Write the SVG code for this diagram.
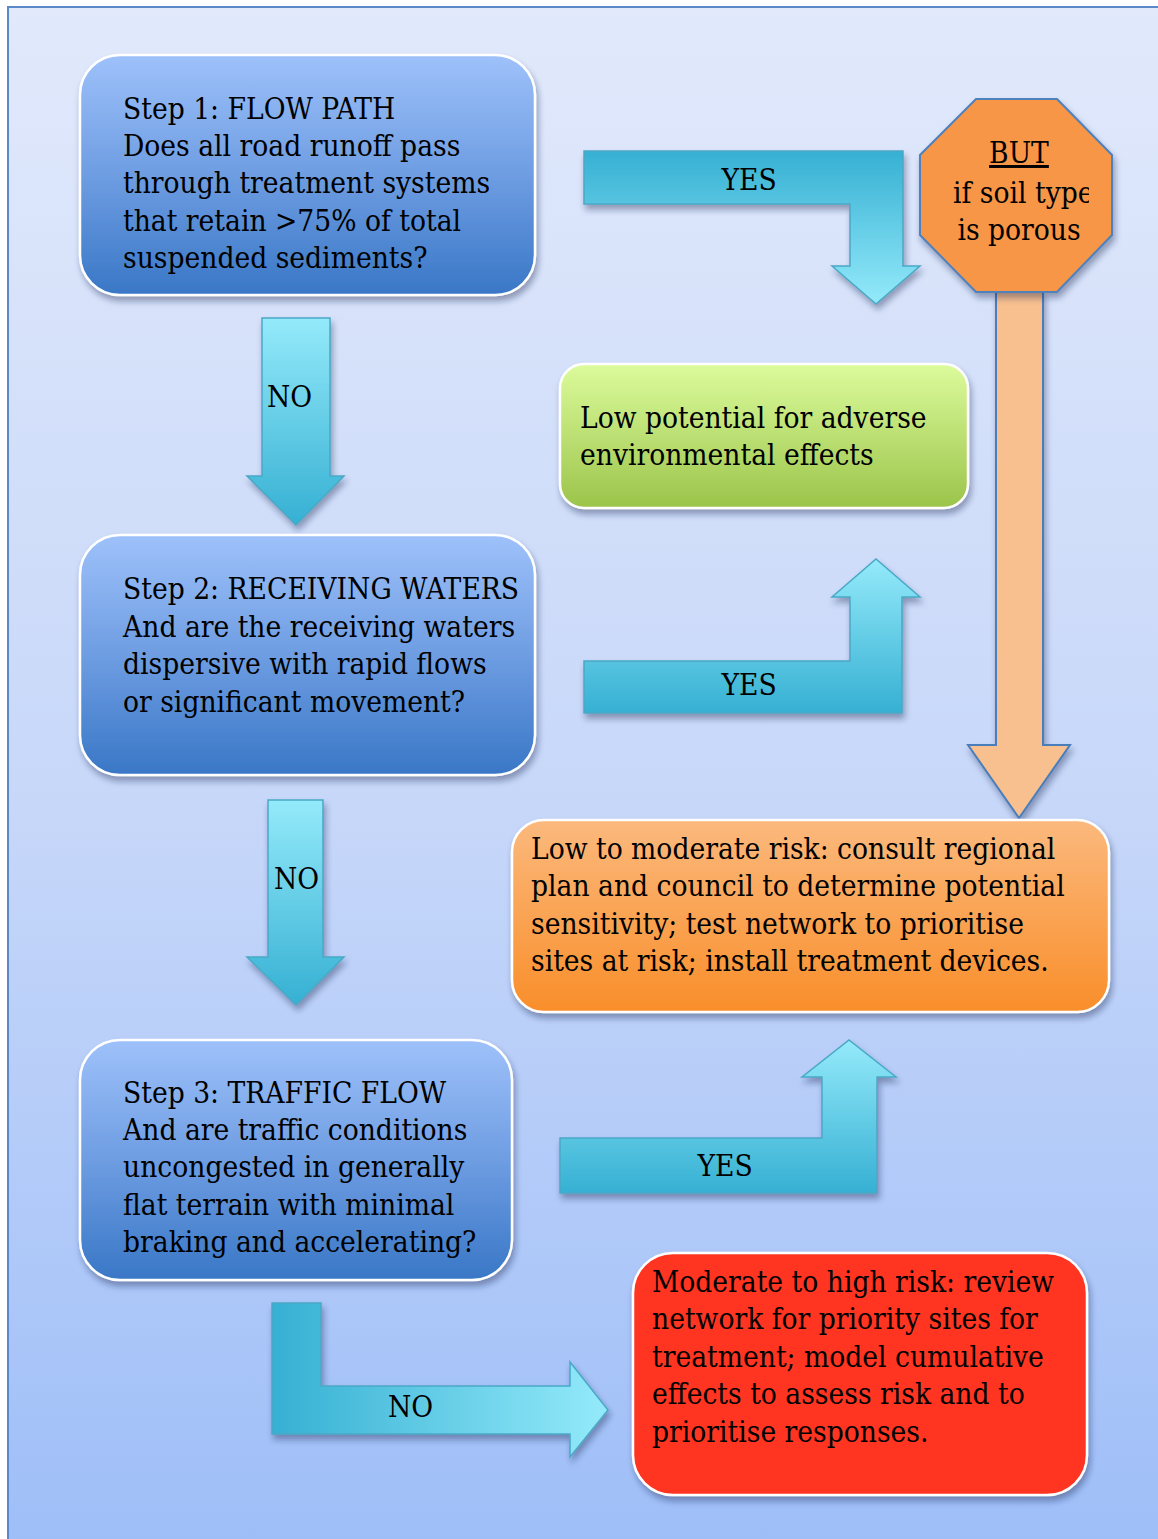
<svg xmlns="http://www.w3.org/2000/svg" width="1158" height="1539" viewBox="0 0 1158 1539">
<defs>
  <linearGradient id="bg" x1="0" y1="0" x2="0" y2="1">
    <stop offset="0" stop-color="#e1e9fb"/>
    <stop offset="0.5" stop-color="#c8d8f9"/>
    <stop offset="1" stop-color="#9ebef8"/>
  </linearGradient>
  <linearGradient id="blueBox" x1="0" y1="0" x2="0" y2="1">
    <stop offset="0" stop-color="#9ec1fa"/>
    <stop offset="0.5" stop-color="#6e9de2"/>
    <stop offset="1" stop-color="#3977c6"/>
  </linearGradient>
  <linearGradient id="greenBox" x1="0" y1="0" x2="0" y2="1">
    <stop offset="0" stop-color="#dcfb9c"/>
    <stop offset="1" stop-color="#9bc44a"/>
  </linearGradient>
  <linearGradient id="orangeBox" x1="0" y1="0" x2="0" y2="1">
    <stop offset="0" stop-color="#fbb97d"/>
    <stop offset="1" stop-color="#f98e2a"/>
  </linearGradient>
  <linearGradient id="cyanDown" x1="0" y1="0" x2="0" y2="1">
    <stop offset="0" stop-color="#94eafa"/>
    <stop offset="1" stop-color="#36b0d3"/>
  </linearGradient>
  <linearGradient id="cyanUp" x1="0" y1="1" x2="0" y2="0">
    <stop offset="0" stop-color="#94eafa"/>
    <stop offset="1" stop-color="#36b0d3"/>
  </linearGradient>
  <linearGradient id="cyanRight" x1="0" y1="0" x2="1" y2="0">
    <stop offset="0" stop-color="#36b0d3"/>
    <stop offset="1" stop-color="#94eafa"/>
  </linearGradient>
  <filter id="shadow" x="-10%" y="-10%" width="130%" height="130%">
    <feDropShadow dx="2" dy="5" stdDeviation="3" flood-color="#1a2a50" flood-opacity="0.4"/>
  </filter>
  <clipPath id="octClip">
    <rect x="920" y="99" width="169" height="193"/>
  </clipPath>
  <style>
    text { font-family: "DejaVu Serif Condensed", "DejaVu Serif", "Liberation Serif", serif; font-stretch: condensed; font-size: 29.6px; fill: #000; }
    .box { stroke: #ffffff; stroke-width: 2.5; filter: url(#shadow); }
    .arrow { stroke: #4aa8c6; stroke-width: 1.5; filter: url(#shadow); }
    .mid { text-anchor: middle; }
  </style>
</defs>

<rect x="0" y="0" width="1158" height="1539" fill="#ffffff"/>
<rect x="8" y="7" width="1160" height="1545" fill="url(#bg)" stroke="#5b88c9" stroke-width="2"/>

<g id="connectors">
  <path id="yes1" class="arrow" fill="url(#cyanUp)" d="M584,151 H903 V266 H920 L876,304 L832,266 H850 V204 H584 Z"/>
  <path id="no1" class="arrow" fill="url(#cyanDown)" d="M262,318 H330 V476 H344 L296,525 L247,476 H262 Z"/>
  <path id="yes2" class="arrow" fill="url(#cyanDown)" d="M584,661 H850 V597 H832 L876,559 L920,597 H902 V713 H584 Z"/>
  <path id="no2" class="arrow" fill="url(#cyanDown)" d="M268,800 H323 V957 H344 L296,1005 L247,957 H268 Z"/>
  <path id="yes3" class="arrow" fill="url(#cyanDown)" d="M560,1138 H822 V1077 H802 L849,1040 L896,1077 H877 V1193 H560 Z"/>
  <path id="no3" class="arrow" fill="url(#cyanRight)" d="M272,1303 H321 V1386 H570 V1362 L608,1410 L570,1457 V1434 H272 Z"/>
  <path id="but-arrow" fill="#f8bf8f" stroke="#4a7ebb" stroke-width="2" filter="url(#shadow)" d="M996,292 H1043 V745 H1070 L1019,818 L968,745 H996 Z"/>
  <text x="749" y="190" class="mid">YES</text>
  <text x="267" y="407">NO</text>
  <text x="749" y="695" class="mid">YES</text>
  <text x="274" y="889">NO</text>
  <text x="725" y="1176" class="mid">YES</text>
  <text x="388" y="1417">NO</text>
</g>

<g id="step1">
  <rect class="box" x="80" y="55" width="455" height="240" rx="40" fill="url(#blueBox)"/>
  <text x="123" y="119">Step 1: FLOW PATH</text>
  <text x="123" y="156">Does all road runoff pass</text>
  <text x="123" y="193">through treatment systems</text>
  <text x="123" y="231">that retain &gt;75% of total</text>
  <text x="123" y="268">suspended sediments?</text>
</g>

<g id="but">
  <polygon points="976,99 1057,99 1112,155 1112,235 1057,292 976,292 920,235 920,155" fill="#f79646" stroke="#4f81bd" stroke-width="2" filter="url(#shadow)"/>
  <text x="1019" y="163" class="mid" text-decoration="underline">BUT</text>
  <text x="953" y="203" clip-path="url(#octClip)">if soil type</text>
  <text x="1019" y="240" class="mid">is porous</text>
</g>

<g id="low">
  <rect class="box" x="560" y="364" width="408" height="144" rx="24" fill="url(#greenBox)"/>
  <text x="580" y="428">Low potential for adverse</text>
  <text x="580" y="465">environmental effects</text>
</g>

<g id="step2">
  <rect class="box" x="80" y="535" width="455" height="240" rx="40" fill="url(#blueBox)"/>
  <text x="123" y="599">Step 2: RECEIVING WATERS</text>
  <text x="123" y="637">And are the receiving waters</text>
  <text x="123" y="674">dispersive with rapid flows</text>
  <text x="123" y="712">or significant movement?</text>
</g>

<g id="lowmod">
  <rect class="box" x="512" y="820" width="597" height="192" rx="32" fill="url(#orangeBox)"/>
  <text x="531" y="859">Low to moderate risk: consult regional</text>
  <text x="531" y="896">plan and council to determine potential</text>
  <text x="531" y="934">sensitivity; test network to prioritise</text>
  <text x="531" y="971">sites at risk; install treatment devices.</text>
</g>

<g id="step3">
  <rect class="box" x="80" y="1040" width="432" height="240" rx="40" fill="url(#blueBox)"/>
  <text x="123" y="1103">Step 3: TRAFFIC FLOW</text>
  <text x="123" y="1140">And are traffic conditions</text>
  <text x="123" y="1177">uncongested in generally</text>
  <text x="123" y="1215">flat terrain with minimal</text>
  <text x="123" y="1252">braking and accelerating?</text>
</g>

<g id="modhigh">
  <rect class="box" x="633" y="1253" width="454" height="242" rx="40" fill="#ff3524"/>
  <text x="652" y="1292">Moderate to high risk: review</text>
  <text x="652" y="1329">network for priority sites for</text>
  <text x="652" y="1367">treatment; model cumulative</text>
  <text x="652" y="1404">effects to assess risk and to</text>
  <text x="652" y="1442">prioritise responses.</text>
</g>
</svg>
